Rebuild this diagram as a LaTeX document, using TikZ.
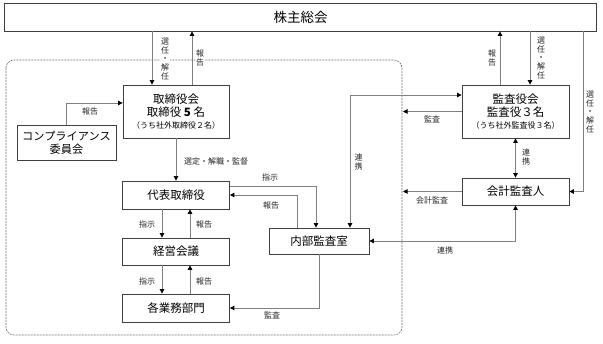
\documentclass[tikz,border=0pt]{standalone}
\usepackage{fontspec}
\setmainfont{Noto Sans CJK JP}
\usetikzlibrary{arrows.meta}
\begin{document}
\begin{tikzpicture}[x=1pt,y=-1pt,
  box/.style={draw=black!75, line width=0.8pt, fill=white, inner sep=0pt, align=center, font=\fontsize{11.5}{13}\selectfont},
  conn/.style={draw=black!50, line width=0.9pt, -{Triangle[length=4.5pt,width=4.5pt,black]}},
  both/.style={draw=black!50, line width=0.9pt, {Triangle[length=4.5pt,width=4.5pt,black]}-{Triangle[length=4.5pt,width=4.5pt,black]}},
  lbl/.style={font=\fontsize{8}{8.6}\selectfont, fill=white, inner sep=1pt, align=center, text=black!85},
]
\useasboundingbox (0,0) rectangle (603,344);
\fill[white] (0,0) rectangle (603,344);
% dashed frame
\draw[black!55, line width=0.6pt, dash pattern=on 2pt off 1pt, rounded corners=8pt] (6,60) rectangle (402,335);
% nodes
\node[box, minimum width=592pt, minimum height=28pt, font=\fontsize{13.5}{15}\selectfont] (top) at (300.5,17) {株主総会};
\node[box, minimum width=106pt, minimum height=53pt] (board) at (176,111.5) {取締役会\\取締役 \textbf{5} 名\\[-1pt]{\fontsize{8}{10}\selectfont （うち社外取締役２名）}};
\node[box, minimum width=99pt, minimum height=35pt, font=\fontsize{11.2}{13}\selectfont] (comp) at (66.5,142.5) {コンプライアンス\\委員会};
\node[box, minimum width=107pt, minimum height=28pt] (rep) at (176,195) {代表取締役};
\node[box, minimum width=107pt, minimum height=27pt] (mtg) at (176,251.5) {経営会議};
\node[box, minimum width=107pt, minimum height=28pt] (dept) at (176,308) {各業務部門};
\node[box, minimum width=100pt, minimum height=26pt] (ia) at (319,241) {内部監査室};
\node[box, minimum width=107pt, minimum height=53pt] (kan) at (515.5,111.5) {監査役会\\監査役３名\\[-1pt]{\fontsize{8}{10}\selectfont （うち社外監査役３名）}};
\node[box, minimum width=107pt, minimum height=27pt] (acc) at (515.5,191.5) {会計監査人};
% helper coordinates on the dashed frame / right line
\coordinate (d1) at (403,0);
\coordinate (d2) at (583.5,0);
% connectors
\draw[conn] ([xshift=-24pt]board.north |- top.south) -- ([xshift=-24pt]board.north);
\draw[conn] ([xshift=16pt]board.north) -- ([xshift=16pt]board.north |- top.south);
\draw[conn] (comp.north) |- ([yshift=8.5pt]board.west);
\draw[conn] (board.south) -- (rep.north);
\draw[conn] ([xshift=-14pt]rep.south) -- ([xshift=-14pt]mtg.north);
\draw[conn] ([xshift=14pt]mtg.north) -- ([xshift=14pt]rep.south);
\draw[conn] ([xshift=-14pt]mtg.south) -- ([xshift=-14pt]dept.north);
\draw[conn] ([xshift=14pt]dept.north) -- ([xshift=14pt]mtg.south);
\draw[conn] ([yshift=9pt]rep.east) -| ([xshift=-3pt]ia.north);
\draw[conn] ([xshift=-22pt]ia.north) |- (rep.east);
\draw[both] ([yshift=16.5pt]kan.west) -| ([xshift=31pt]ia.north);
\draw[conn] (kan.west) -- (kan.west -| d1);
\draw[conn] ([xshift=-15.5pt]kan.north) -- ([xshift=-15.5pt]kan.north |- top.south);
\draw[conn] ([xshift=14.5pt]kan.north |- top.south) -- ([xshift=14.5pt]kan.north);
\draw[conn] (top.south -| d2) |- (acc.east);
\draw[both] (kan.south) -- (acc.north);
\draw[conn] (acc.west) -- (acc.west -| d1);
\draw[both] (ia.east) -| (acc.south);
\draw[conn] (ia.south) |- (dept.east);
% labels
\node[lbl] (l1) at (165,59) {選\\任\\・\\解\\任};
\node[lbl] (l2) at (200,58) {報\\告};
\node[lbl] (l3) at (90,111) {報告};
\node[lbl] (l4) at (216,161) {選定・解職・監督};
\node[lbl] (l5) at (147,224) {指示};
\node[lbl] (l6) at (204,224) {報告};
\node[lbl] (l7) at (147,281) {指示};
\node[lbl] (l8) at (204,281) {報告};
\node[lbl] (l9) at (270,177) {指示};
\node[lbl] (l10) at (271,205) {報告};
\node[lbl] (l11) at (358.5,162) {連\\携};
\node[lbl] (l12) at (432,119) {監査};
\node[lbl] (l13) at (492,58) {報\\告};
\node[lbl] (l14) at (541,58) {選\\任\\・\\解\\任};
\node[lbl] (l15) at (590,112) {選\\任\\・\\解\\任};
\node[lbl] (l16) at (526,157) {連\\携};
\node[lbl] (l17) at (432,200) {会計監査};
\node[lbl] (l18) at (445,250) {連携};
\node[lbl] (l19) at (272,315) {監査};
\end{tikzpicture}
\end{document}
